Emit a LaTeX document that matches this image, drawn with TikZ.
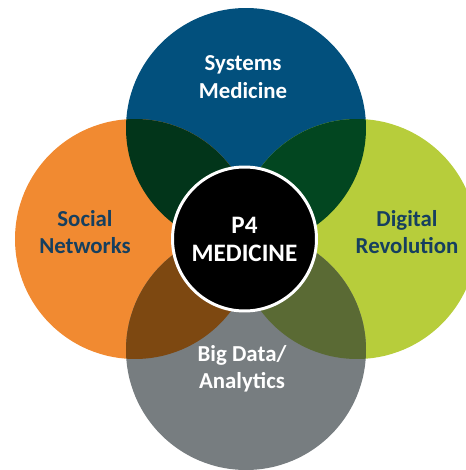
\documentclass[tikz,border=0pt]{standalone}
\usepackage{fontspec}
\setmainfont{Carlito}
\definecolor{sysblue}{HTML}{02507D}
\definecolor{socorange}{HTML}{F18A31}
\definecolor{diggreen}{HTML}{B7CD3B}
\definecolor{datagrey}{HTML}{777D80}
\definecolor{sysorange}{HTML}{02351A}
\definecolor{sysgreen}{HTML}{024620}
\definecolor{socgrey}{HTML}{7D4811}
\definecolor{diggrey}{HTML}{5A6A34}
\definecolor{textblue}{HTML}{163F5F}
\begin{document}
\begin{tikzpicture}[
    petal/.style={circle, minimum size=4.8cm, inner sep=0pt},
    lbl/.style={align=center, font=\fontsize{13}{15.5}\selectfont\bfseries}
]
\useasboundingbox (0,0) rectangle (9.32,9.4);
\clip (0,0) rectangle (9.32,9.4);

\node[petal, fill=sysblue] (sys) at (4.92, 6.84) {};
\node[petal, fill=socorange] (soc) at (2.70, 4.62) {};
\node[petal, fill=diggreen] (dig) at (7.14, 4.62) {};
\node[petal, fill=datagrey] (dat) at (4.92, 2.40) {};

% overlaps
\begin{scope}
\clip (sys.center) circle (2.4);
\fill[sysorange] (soc.center) circle (2.4);
\fill[sysgreen] (dig.center) circle (2.4);
\end{scope}
\begin{scope}
\clip (dat.center) circle (2.4);
\fill[socgrey] (soc.center) circle (2.4);
\fill[diggrey] (dig.center) circle (2.4);
\end{scope}

\node[circle, minimum size=2.88cm, inner sep=0pt, fill=black, draw=white,
    line width=1.7pt, text=white, align=center,
    font=\fontsize{14.3}{16}\selectfont\bfseries] (p4) at (4.89, 4.62) {P4\\MEDICINE};

\node[lbl, text=white] (sysl) at (4.86, 7.86) {Systems\\Medicine};
\node[lbl, text=textblue] (socl) at (1.70, 4.76) {Social\\Networks};
\node[lbl, text=textblue] (digl) at (8.14, 4.76) {Digital\\Revolution};
\node[lbl, text=white] (datl) at (4.84, 2.02) {Big Data/\\Analytics};
\end{tikzpicture}
\end{document}
